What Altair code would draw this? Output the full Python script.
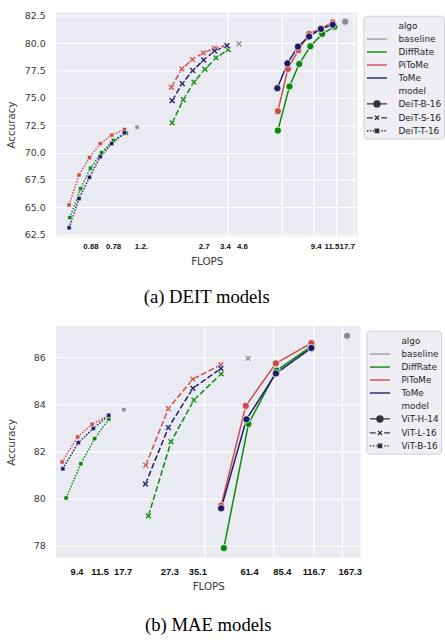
import altair as alt
import pandas as pd

ALGOS = ["DiffRate", "PiToMe", "ToMe"]
ALGO_COLORS = ["#0a870a", "#cc4c4c", "#1c1c64"]
BASELINE_COLOR = "#8a8a8a"

# ---------------- (a) DEIT models ----------------
DEIT_MODELS = ["DeiT-B-16", "DeiT-S-16", "DeiT-T-16"]

deit_b_tome_flops = [7.51, 8.54, 9.76, 11.25, 13.07, 15.19]
deit_b_tome_acc = [75.88, 78.15, 79.68, 80.61, 81.30, 81.69]
deit_b_pitome_flops = [7.56, 8.59, 9.81, 11.25, 13.07, 15.19]
deit_b_pitome_acc = [73.78, 77.65, 79.36, 80.85, 81.36, 81.90]
deit_b_diffrate_flops = [7.56, 8.76, 9.92, 11.43, 13.29, 15.52]
deit_b_diffrate_acc = [72.01, 76.03, 78.10, 79.71, 80.85, 81.51]

deit_s_tome_flops = [1.97, 2.24, 2.56, 2.94, 3.38, 3.96]
deit_s_tome_acc = [74.74, 76.30, 77.50, 78.46, 79.29, 79.77]
deit_s_pitome_flops = [1.95, 2.23, 2.55, 2.93, 3.37, 3.92]
deit_s_pitome_acc = [75.97, 77.65, 78.51, 79.11, 79.53, 79.77]
deit_s_diffrate_flops = [1.97, 2.27, 2.60, 2.99, 3.44, 4.02]
deit_s_diffrate_acc = [72.71, 74.83, 76.44, 77.61, 78.66, 79.41]

deit_t_tome_flops = [0.531, 0.602, 0.688, 0.789, 0.913, 1.074]
deit_t_tome_acc = [63.12, 65.79, 67.73, 69.62, 70.82, 71.81]
deit_t_pitome_flops = [0.531, 0.602, 0.688, 0.789, 0.913, 1.074]
deit_t_pitome_acc = [65.21, 67.94, 69.53, 70.82, 71.59, 72.10]
deit_t_diffrate_flops = [0.536, 0.614, 0.697, 0.802, 0.932, 1.097]
deit_t_diffrate_acc = [64.05, 66.69, 68.57, 69.98, 71.09, 71.77]

deit_baseline_flops = [17.8, 4.61, 1.26]
deit_baseline_acc = [81.96, 79.95, 72.31]

deit_tick_pos = [0.697, 0.929, 1.324, 2.94, 3.86, 4.79, 12.24, 14.94, 18.16]
deit_tick_text = ["0.68", "0.78", "1.2.", "2.7", "3.4", "4.6", "9.4", "11.5", "17.7"]
deit_grid = [4, 8, 12, 16, 20]
deit_y_ticks = [62.5, 65.0, 67.5, 70.0, 72.5, 75.0, 77.5, 80.0, 82.5]

# ---------------- (b) MAE models ----------------
MAE_MODELS = ["ViT-H-14", "ViT-L-16", "ViT-B-16"]

vit_h_tome_flops = [47.19, 60.87, 81.90, 117.0]
vit_h_tome_acc = [79.59, 83.37, 85.32, 86.40]
vit_h_pitome_flops = [47.19, 60.45, 81.90, 117.0]
vit_h_pitome_acc = [79.71, 83.94, 85.75, 86.61]
vit_h_diffrate_flops = [48.46, 62.09, 82.40, 117.7]
vit_h_diffrate_acc = [77.90, 83.17, 85.44, 86.49]

vit_l_tome_flops = [22.01, 27.73, 35.5, 47.04]
vit_l_tome_acc = [80.62, 83.02, 84.69, 85.53]
vit_l_pitome_flops = [22.08, 27.73, 35.5, 47.04]
vit_l_pitome_acc = [81.42, 83.83, 85.08, 85.69]
vit_l_diffrate_flops = [22.68, 28.48, 35.86, 47.19]
vit_l_diffrate_acc = [79.27, 82.42, 84.19, 85.30]

vit_b_tome_flops = [9.58, 11.19, 13.02, 15.21]
vit_b_tome_acc = [81.27, 82.38, 82.98, 83.54]
vit_b_pitome_flops = [9.51, 11.12, 12.86, 15.21]
vit_b_pitome_acc = [81.56, 82.62, 83.16, 83.54]
vit_b_diffrate_flops = [9.90, 11.48, 13.19, 15.21]
vit_b_diffrate_acc = [80.03, 81.48, 82.55, 83.38]

mae_baseline_flops = [167.6, 61.85, 17.70]
mae_baseline_acc = [86.92, 85.96, 83.78]

mae_tick_pos = [11.0, 13.86, 17.48, 28.0, 37.1, 62.45, 86.97, 119.7, 172.2]
mae_tick_text = ["9.4", "11.5", "17.7", "27.3", "35.1", "61.4", "85.4", "116.7", "167.3"]
mae_grid = [40, 80, 120, 160]
mae_y_ticks = [78, 80, 82, 84, 86]


def build_df(models, series, base_x, base_y):
    rows = []
    for model, algo, xs, ys in series:
        for x, y in zip(xs, ys):
            rows.append({"model": model, "algo": algo, "flops": x, "acc": y})
    for model, x, y in zip(models, base_x, base_y):
        rows.append({"model": model, "algo": "baseline", "flops": x, "acc": y})
    return pd.DataFrame(rows)


deit_df = build_df(DEIT_MODELS, [
    ("DeiT-B-16", "DiffRate", deit_b_diffrate_flops, deit_b_diffrate_acc),
    ("DeiT-B-16", "PiToMe", deit_b_pitome_flops, deit_b_pitome_acc),
    ("DeiT-B-16", "ToMe", deit_b_tome_flops, deit_b_tome_acc),
    ("DeiT-S-16", "DiffRate", deit_s_diffrate_flops, deit_s_diffrate_acc),
    ("DeiT-S-16", "PiToMe", deit_s_pitome_flops, deit_s_pitome_acc),
    ("DeiT-S-16", "ToMe", deit_s_tome_flops, deit_s_tome_acc),
    ("DeiT-T-16", "DiffRate", deit_t_diffrate_flops, deit_t_diffrate_acc),
    ("DeiT-T-16", "PiToMe", deit_t_pitome_flops, deit_t_pitome_acc),
    ("DeiT-T-16", "ToMe", deit_t_tome_flops, deit_t_tome_acc),
], deit_baseline_flops, deit_baseline_acc)

mae_df = build_df(MAE_MODELS, [
    ("ViT-H-14", "DiffRate", vit_h_diffrate_flops, vit_h_diffrate_acc),
    ("ViT-H-14", "PiToMe", vit_h_pitome_flops, vit_h_pitome_acc),
    ("ViT-H-14", "ToMe", vit_h_tome_flops, vit_h_tome_acc),
    ("ViT-L-16", "DiffRate", vit_l_diffrate_flops, vit_l_diffrate_acc),
    ("ViT-L-16", "PiToMe", vit_l_pitome_flops, vit_l_pitome_acc),
    ("ViT-L-16", "ToMe", vit_l_tome_flops, vit_l_tome_acc),
    ("ViT-B-16", "DiffRate", vit_b_diffrate_flops, vit_b_diffrate_acc),
    ("ViT-B-16", "PiToMe", vit_b_pitome_flops, vit_b_pitome_acc),
    ("ViT-B-16", "ToMe", vit_b_tome_flops, vit_b_tome_acc),
], mae_baseline_flops, mae_baseline_acc)

# ---------------- styles ----------------
BG = "#EAEAF2"
X_PATH = "M-1,-0.6L-0.6,-1L0,-0.4L0.6,-1L1,-0.6L0.4,0L1,0.6L0.6,1L0,0.4L-0.6,1L-1,0.6L-0.4,0Z"
MARKERS = [
    {"shape": "circle", "size": 55, "sw": 0.8},
    {"shape": X_PATH, "size": 42, "sw": 0.6},
    {"shape": "square", "size": 18, "sw": 0.5},
]
DASHES = [[1, 0], [6, 2.5], [1.5, 1.5]]

# legend swatches: nominal symbol box 14 px, drawn 20.5 px wide
SYM_BOX = 14.0
SYM_W = 20.5
K = SYM_W / SYM_BOX


def f(v):
    return f"{v * K:.3f}"


def seg(a, b):
    return f"M{f(a)},0H{f(b)}"


LINE_SYM = seg(-1, 1)
CIRC_SYM = seg(-1, 1) + (f"M{f(0.3)},0A{f(0.3)},{f(0.3)},0,1,1,{f(-0.3)},0"
                         f"A{f(0.3)},{f(0.3)},0,1,1,{f(0.3)},0Z")
DASH_SYM = (seg(-1, -0.42) + seg(0.42, 1) +
            f"M{f(-0.2)},{f(-0.2)}L{f(0.2)},{f(0.2)}M{f(-0.2)},{f(0.2)}L{f(0.2)},{f(-0.2)}")


def dotted_sym():
    d = 0.146
    parts = []
    a = -1.0
    while a < -0.3:
        parts.append(seg(a, min(a + d, -0.3)))
        a += 2 * d
    a = 0.3 + d
    while a < 1.0:
        parts.append(seg(a, min(a + d, 1.0)))
        a += 2 * d
    parts.append(f"M{f(-0.17)},{f(-0.17)}H{f(0.17)}V{f(0.17)}H{f(-0.17)}Z")
    return "".join(parts)


DOT_SYM = dotted_sym()


def label_expr(pos, txt):
    expr = "''"
    for p, t in reversed(list(zip(pos, txt))):
        expr = f"abs(datum.value - {p}) < 1e-6 ? '{t}' : ({expr})"
    return expr


def panel(df, models, xdom, grid_vals, tick_pos, tick_txt, ydom, yticks, yfmt,
          w, h, legend_y, caption, lab_pad, cap_offset, ytitle_pad, xlab_size):
    xs = alt.Scale(type="log", domain=xdom, nice=False)
    ys = alt.Scale(domain=ydom, nice=False, zero=False)
    yaxis = alt.Axis(values=yticks, format=yfmt, title="Accuracy", grid=True,
                     ticks=False, tickSize=0, domain=False, labelPadding=11,
                     titlePadding=ytitle_pad)
    label_axis = alt.Axis(values=tick_pos, labelExpr=label_expr(tick_pos, tick_txt),
                          grid=False, ticks=False, tickSize=0, domain=False,
                          title="FLOPS", orient="bottom", labelOverlap=False,
                          labelFlush=False, labelFont="Liberation Sans",
                          labelFontWeight="bold", labelColor="#111111",
                          labelFontSize=xlab_size, labelPadding=lab_pad, titlePadding=6)
    color = alt.Color("algo:N",
                      scale=alt.Scale(domain=["baseline"] + ALGOS,
                                      range=[BASELINE_COLOR] + ALGO_COLORS),
                      legend=None)

    grid = alt.Chart(pd.DataFrame({"g": grid_vals})).mark_rule(
        color="#ffffff", strokeWidth=1.2, opacity=1).encode(
        x=alt.X("g:Q", scale=xs, axis=None),
        y=alt.value(0),
        y2=alt.value(h),
    )

    lines = alt.Chart(df).transform_filter("datum.algo != 'baseline'").mark_line(
        strokeWidth=1.5).encode(
        x=alt.X("flops:Q", scale=xs, axis=None),
        y=alt.Y("acc:Q", scale=ys, axis=yaxis),
        color=color,
        strokeDash=alt.StrokeDash("model:N", scale=alt.Scale(domain=models, range=DASHES),
                                  legend=None),
        order="flops:Q",
    )

    layers = [grid, lines]
    for i, m in enumerate(models):
        st = MARKERS[i]
        layers.append(
            alt.Chart(df).transform_filter(alt.datum.model == m).mark_point(
                filled=True, shape=st["shape"], size=st["size"], stroke="white",
                strokeWidth=st["sw"], opacity=1).encode(
                x=alt.X("flops:Q", scale=xs, axis=label_axis if i == 0 else None),
                y=alt.Y("acc:Q", scale=ys, axis=yaxis),
                color=color,
            )
        )

    entries = ["algo", "baseline"] + ALGOS + ["model"] + models
    legend_df = pd.DataFrame({"entry": entries})
    sym_shapes = [LINE_SYM] * 6 + [CIRC_SYM, DASH_SYM, DOT_SYM]
    strokes = ["transparent", "#9a9a9a"] + ALGO_COLORS + ["transparent", "#333333",
                                                          "#333333", "#333333"]
    fills = ["transparent"] * 6 + ["#333333", "#333333", "#333333"]
    leg = alt.Legend(title=None, orient="none", legendX=w + 6, legendY=legend_y,
                     symbolSize=SYM_BOX * SYM_BOX, symbolOffset=(SYM_W - SYM_BOX) / 2,
                     symbolStrokeWidth=1.4, symbolOpacity=1,
                     labelFont="DejaVu Sans", labelFontSize=9, labelColor="#262626",
                     labelOffset=SYM_W - SYM_BOX + 7.4, rowPadding=0.2, padding=2.5,
                     fillColor="#eeeef4", strokeColor="#d0d0d0", cornerRadius=3)
    legend_layer = alt.Chart(legend_df).transform_filter(
        "datum.entry == '__none__'").mark_point(opacity=1).encode(
        shape=alt.Shape("entry:N", scale=alt.Scale(domain=entries, range=sym_shapes), legend=leg),
        fill=alt.Fill("entry:N", scale=alt.Scale(domain=entries, range=fills), legend=leg),
        stroke=alt.Stroke("entry:N", scale=alt.Scale(domain=entries, range=strokes), legend=leg),
    )
    layers.append(legend_layer)

    return alt.layer(*layers).resolve_axis(x="independent").properties(
        width=w, height=h,
        view=alt.ViewBackground(fill=BG, strokeWidth=0),
        title=alt.TitleParams(caption, orient="bottom", font="Liberation Serif",
                              fontSize=19, fontWeight="normal", color="black",
                              offset=cap_offset, anchor="middle"),
    )


pa = panel(deit_df, DEIT_MODELS, [0.4494, 20.84], deit_grid, deit_tick_pos, deit_tick_text,
           [62.32, 82.8], deit_y_ticks, ".1f", 307, 228, 3.3, "(a) DEIT models",
           6, 22, 7.5, 8)
pb = panel(mae_df, MAE_MODELS, [8.94, 192.0], mae_grid, mae_tick_pos, mae_tick_text,
           [77.49, 87.34], mae_y_ticks, "d", 310, 236, 5, "(b) MAE models",
           9, 25, 16.7, 9.5)

chart = alt.vconcat(pa, pb, spacing=18).resolve_scale(
    x="independent", y="independent", color="independent",
    strokeDash="independent", shape="independent", fill="independent",
    stroke="independent",
).resolve_legend(
    shape="independent", fill="independent", stroke="independent",
).properties(
    padding={"left": 7, "top": 5, "right": 0, "bottom": 0},
    background="white",
).configure_view(fill=BG, strokeWidth=0).configure_axis(
    labelFont="DejaVu Sans", labelFontSize=9.6, labelColor="#3a3a3a",
    titleFont="DejaVu Sans", titleFontSize=10.5, titleFontWeight="normal",
    titleColor="#3a3a3a", gridColor="white", gridWidth=1.1,
)

chart.save("out.html", embed_options={"renderer": "svg", "actions": False})
